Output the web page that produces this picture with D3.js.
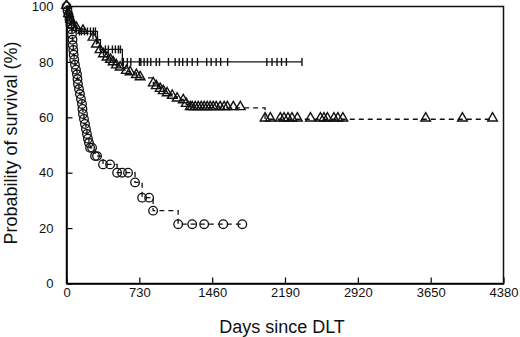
<!DOCTYPE html>
<html>
<head>
<meta charset="utf-8">
<script src="https://cdn.jsdelivr.net/npm/d3@7"></script>
<style>
  body { margin: 0; background: #fff; }
  text { font-family: "Liberation Sans", Arial, sans-serif; fill: #111; }
</style>
</head>
<body>
<div id="container"></div>
<script>
// tick labels
const xTicks = [0, 730, 1460, 2190, 2920, 3650, 4380];
const yTicks = [0, 20, 40, 60, 80, 100];

// group "+" : steps (day, survival %), then censor marks
const plusDays = [0, 15, 30, 50, 70, 100, 130, 310, 340, 560, 2360];
const plusSurv = [100, 98, 96, 94, 93, 92, 91, 88, 84.5, 80, 80];
const plusMarks = [150, 180, 210, 240, 270, 290, 390, 420, 460, 490, 520, 540,
  570, 610, 645, 731, 745, 778, 811, 845, 899, 932, 1022, 1089, 1130, 1165, 1210,
  1260, 1313, 1405, 1450, 1500, 1545, 1615, 2008, 2060, 2110, 2155, 2204, 2360];

// group triangle
const triDays = [0, 20, 40, 60, 100, 165, 265, 300, 336, 370, 406, 440, 467, 500,
  537, 600, 637, 700, 738, 870, 900, 939, 970, 1009, 1060, 1109, 1170, 1200, 1240, 1990, 4270];
const triSurv = [100, 97, 95, 93, 92, 91, 88.5, 86, 84, 82.5, 81.3, 80.5, 79.6, 78.5,
  77.7, 76.5, 76, 75, 74.2, 72, 71, 70, 69.2, 68.4, 67.5, 66.5, 65.9, 64.6, 63.4, 59.3, 59.3];
const triMarks = [1260, 1290, 1320, 1350, 1380, 1410, 1440, 1470, 1500, 1540, 1580,
  1612, 1672, 1742, 2043, 2143, 2180, 2220, 2260, 2314, 2445, 2545, 2580, 2615,
  2680, 2720, 2770, 3600, 3968];

// group circle
const circDays = [0, 10, 20, 30, 40, 50, 55, 60, 63, 68, 72, 78, 85, 95, 105, 110, 115,
  125, 135, 145, 155, 160, 165, 175, 185, 195, 205, 215, 225, 236, 286, 366, 507, 687,
  758, 868, 1119, 1762];
const circSurv = [100, 98.5, 97, 95.3, 93.5, 91.8, 90, 88, 86, 84.3, 82.6, 80.8, 79,
  77.2, 75.5, 73.8, 72, 70.2, 68.4, 66.6, 64.8, 63, 61.2, 59.4, 57.6, 55.8, 54, 52.3,
  50.8, 49, 46, 43, 40, 36.5, 31, 26.3, 21.4, 21.4];
const circMarks = [256, 306, 437, 557, 617, 828, 1260, 1380, 1571];

const width = 520, height = 337;
const margin = { top: 6.5, right: 16.5, bottom: 53.5, left: 66.5 };

const x = d3.scaleLinear()
  .domain([0, 4380])
  .range([margin.left, width - margin.right]);

const y = d3.scaleLinear()
  .domain([0, 100])
  .range([height - margin.bottom, margin.top]);

const svg = d3.create("svg")
  .attr("width", width)
  .attr("height", height);

// frame (top + right)
svg.append("rect")
  .attr("x", x(0)).attr("y", y(100))
  .attr("width", x(4380) - x(0)).attr("height", y(0) - y(100))
  .attr("fill", "none").attr("stroke", "#111").attr("stroke-width", 1.5);

svg.append("g")
  .attr("transform", `translate(0,${y(0)})`)
  .call(d3.axisBottom(x).tickValues(xTicks).tickFormat(d3.format("d"))
    .tickSizeInner(-6).tickSizeOuter(0).tickPadding(4))
  .call(g => g.select(".domain").attr("stroke-width", 1.5))
  .call(g => g.selectAll(".tick line").attr("stroke-width", 1.2))
  .call(g => g.selectAll("text").attr("font-size", 13));

svg.append("g")
  .attr("transform", `translate(${x(0)},0)`)
  .call(d3.axisLeft(y).tickValues(yTicks).tickSizeInner(-6).tickSizeOuter(0).tickPadding(13))
  .call(g => g.select(".domain").attr("stroke-width", 1.5))
  .call(g => g.selectAll(".tick line").attr("stroke-width", 1.2))
  .call(g => g.selectAll("text").attr("font-size", 13));

svg.append("text")
  .attr("x", (x(0) + x(4380)) / 2 - 3).attr("y", 333)
  .attr("text-anchor", "middle").attr("font-size", 18)
  .text("Days since DLT");

svg.append("text")
  .attr("transform", `translate(17,143) rotate(-90)`)
  .attr("text-anchor", "middle").attr("font-size", 18)
  .text("Probability of survival (%)");

// survival lookup on a step curve
function stepAt(days, surv, d) {
  let v = surv[0];
  for (let i = 0; i < days.length; i++) if (days[i] <= d) v = surv[i];
  return v;
}

const line = d3.line().x(d => x(d[0])).y(d => y(d[1])).curve(d3.curveStepAfter);

function drawCurve(days, surv, dash) {
  svg.append("path")
    .datum(days.map((d, i) => [d, surv[i]]))
    .attr("d", line)
    .attr("fill", "none")
    .attr("stroke", "#111")
    .attr("stroke-width", 1.3)
    .attr("stroke-dasharray", dash);
}

drawCurve(plusDays, plusSurv, null);
drawCurve(triDays, triSurv, "5,4");
drawCurve(circDays, circSurv, "5,4");

// + marks (vertical ticks on the line)
svg.append("g").selectAll("line")
  .data(plusDays.slice(1, -1).concat(plusMarks))
  .join("line")
  .attr("x1", d => x(d)).attr("x2", d => x(d))
  .attr("y1", d => y(stepAt(plusDays, plusSurv, d)) - 4)
  .attr("y2", d => y(stepAt(plusDays, plusSurv, d)) + 4)
  .attr("stroke", "#111").attr("stroke-width", 1.4);

// triangles
const tri = d3.symbol().type(d3.symbolTriangle).size(40);
svg.append("g").selectAll("path")
  .data(triDays.slice(0, -1).concat(triMarks, [4270]))
  .join("path")
  .attr("transform", d => `translate(${x(d)},${y(stepAt(triDays, triSurv, d)) - 1})`)
  .attr("d", tri)
  .attr("fill", "none").attr("stroke", "#111").attr("stroke-width", 1.4);

// circles
svg.append("g").selectAll("circle")
  .data(circDays.concat(circMarks))
  .join("circle")
  .attr("cx", d => x(d))
  .attr("cy", d => y(stepAt(circDays, circSurv, d)))
  .attr("r", 4.3)
  .attr("fill", "none").attr("stroke", "#111").attr("stroke-width", 1.3);

document.getElementById("container").append(svg.node());
</script>
</body>
</html>
